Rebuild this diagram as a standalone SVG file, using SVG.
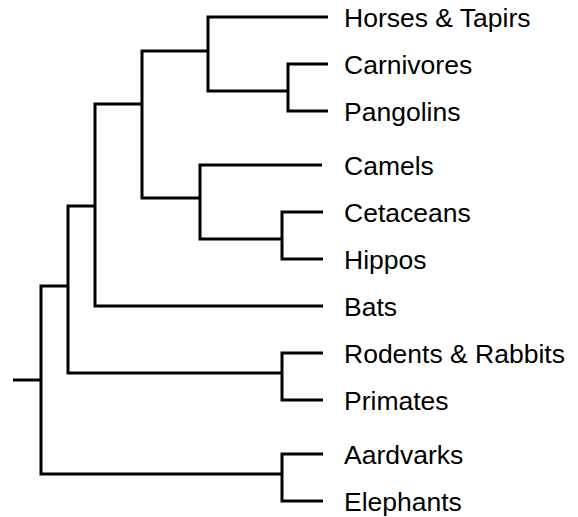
<svg xmlns="http://www.w3.org/2000/svg" width="578" height="517" viewBox="0 0 578 517">
  <style>
    .br { fill: none; stroke: #000; stroke-width: 3; stroke-linejoin: miter; stroke-linecap: butt; }
    .lbl { font-family: "Liberation Sans", Arial, sans-serif; font-size: 26.5px; fill: #000; }
  </style>
  <rect width="578" height="517" fill="#fff"/>
  <!-- tree branches -->
  <g id="connectors" class="br">
    <path d="M13 380 H41"/>
    <path d="M68 286 H41 V474 H282"/>
    <path d="M323 454 H282 V501 H323"/>
    <path d="M95 206 H68 V373 H282"/>
    <path d="M323 353 H282 V400 H323"/>
    <path d="M142 104 H95 V306 H323"/>
    <path d="M208 51 H142 V198 H200"/>
    <path d="M328 17 H208 V91 H288"/>
    <path d="M328 64 H288 V111 H328"/>
    <path d="M322 165 H200 V239 H282"/>
    <path d="M323 212 H282 V259 H323"/>
  </g>
  <!-- leaf labels -->
  <g id="horses"><text class="lbl" x="344" y="27">Horses &amp; Tapirs</text></g>
  <g id="carnivores"><text class="lbl" x="344" y="74">Carnivores</text></g>
  <g id="pangolins"><text class="lbl" x="344" y="121">Pangolins</text></g>
  <g id="camels"><text class="lbl" x="344" y="175">Camels</text></g>
  <g id="cetaceans"><text class="lbl" x="344" y="222">Cetaceans</text></g>
  <g id="hippos"><text class="lbl" x="344" y="269">Hippos</text></g>
  <g id="bats"><text class="lbl" x="344" y="316">Bats</text></g>
  <g id="rodents"><text class="lbl" x="344" y="363">Rodents &amp; Rabbits</text></g>
  <g id="primates"><text class="lbl" x="344" y="410">Primates</text></g>
  <g id="aardvarks"><text class="lbl" x="344" y="464">Aardvarks</text></g>
  <g id="elephants"><text class="lbl" x="344" y="511">Elephants</text></g>
</svg>
